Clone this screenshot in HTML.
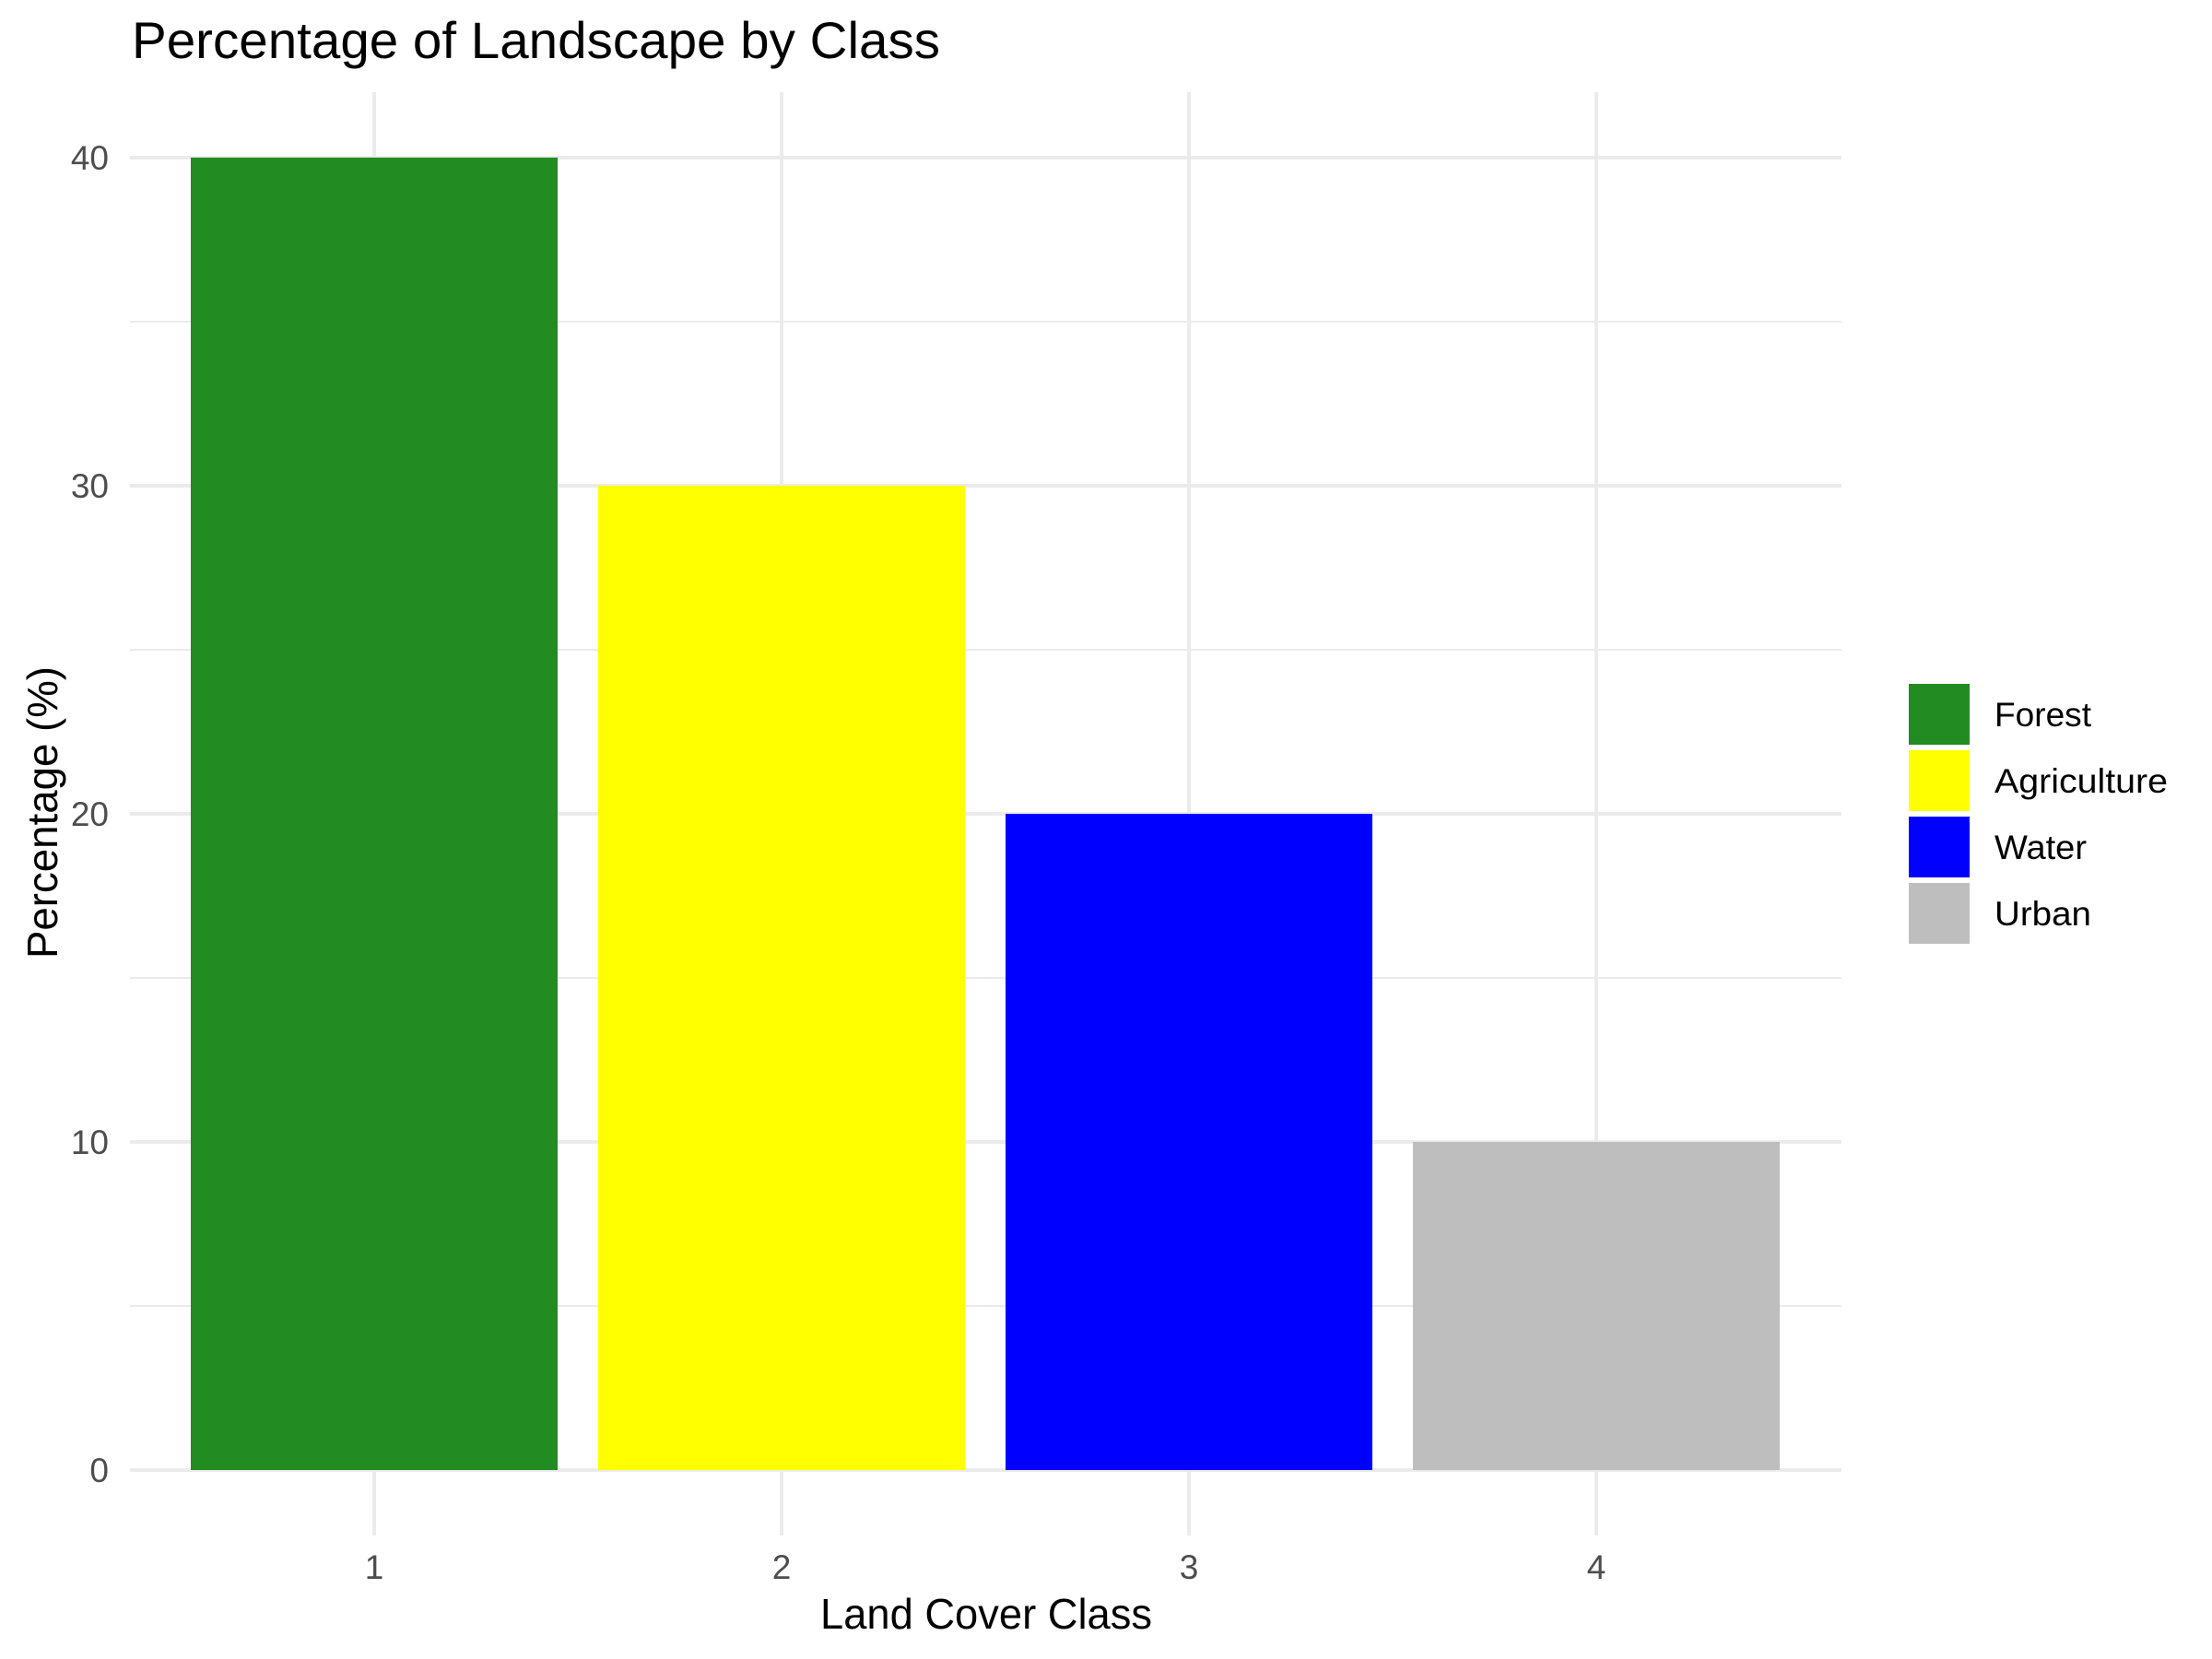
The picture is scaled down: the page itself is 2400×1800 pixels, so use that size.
<!DOCTYPE html>
<html><head><meta charset="utf-8"><style>html,body{margin:0;padding:0;background:#fff}svg{display:block}</style></head>
<body>
<svg width="2400" height="1800" viewBox="0 0 2400 1800" xmlns="http://www.w3.org/2000/svg" font-family="Liberation Sans, DejaVu Sans, sans-serif">
<rect width="2400" height="1800" fill="#fff"/>
<g stroke="#ebebeb" stroke-width="2">
<line x1="141" x2="1998" y1="349" y2="349"/><line x1="141" x2="1998" y1="705" y2="705"/>
<line x1="141" x2="1998" y1="1061" y2="1061"/><line x1="141" x2="1998" y1="1417" y2="1417"/>
</g>
<g stroke="#ebebeb" stroke-width="4">
<line x1="141" x2="1998" y1="171" y2="171"/><line x1="141" x2="1998" y1="527" y2="527"/>
<line x1="141" x2="1998" y1="883" y2="883"/><line x1="141" x2="1998" y1="1239" y2="1239"/>
<line x1="141" x2="1998" y1="1595" y2="1595"/>
<line x1="406" x2="406" y1="100" y2="1666"/><line x1="848" x2="848" y1="100" y2="1666"/>
<line x1="1290" x2="1290" y1="100" y2="1666"/><line x1="1732" x2="1732" y1="100" y2="1666"/>
</g>
<rect x="207" y="171" width="398" height="1424" fill="#228b22"/>
<rect x="649" y="527" width="398" height="1068" fill="#ffff00"/>
<rect x="1091" y="883" width="398" height="712" fill="#0000ff"/>
<rect x="1533" y="1239" width="398" height="356" fill="#bebebe"/>
<g fill="#4d4d4d" font-size="37" text-anchor="end">
<text x="118" y="184">40</text><text x="118" y="540">30</text><text x="118" y="896">20</text>
<text x="118" y="1252">10</text><text x="118" y="1608">0</text>
</g>
<g fill="#4d4d4d" font-size="37" text-anchor="middle">
<text x="406" y="1713">1</text><text x="848" y="1713">2</text><text x="1290" y="1713">3</text><text x="1732" y="1713">4</text>
</g>
<text x="890" y="1767" font-size="46" textLength="360" lengthAdjust="spacingAndGlyphs" fill="#000">Land Cover Class</text>
<text transform="translate(62,1040) rotate(-90)" font-size="46" textLength="317" lengthAdjust="spacingAndGlyphs" fill="#000">Percentage (%)</text>
<text x="143" y="63" font-size="56" textLength="877" lengthAdjust="spacingAndGlyphs" fill="#000">Percentage of Landscape by Class</text>
<rect x="2071" y="742" width="66" height="66" fill="#228b22"/>
<rect x="2071" y="814" width="66" height="66" fill="#ffff00"/>
<rect x="2071" y="886" width="66" height="66" fill="#0000ff"/>
<rect x="2071" y="958" width="66" height="66" fill="#bebebe"/>
<g font-size="37" fill="#000">
<text x="2164" y="788" textLength="105" lengthAdjust="spacingAndGlyphs">Forest</text>
<text x="2164" y="860" textLength="188" lengthAdjust="spacingAndGlyphs">Agriculture</text>
<text x="2164" y="932" textLength="100" lengthAdjust="spacingAndGlyphs">Water</text>
<text x="2164" y="1004" textLength="105" lengthAdjust="spacingAndGlyphs">Urban</text>
</g>
</svg>
</body></html>
